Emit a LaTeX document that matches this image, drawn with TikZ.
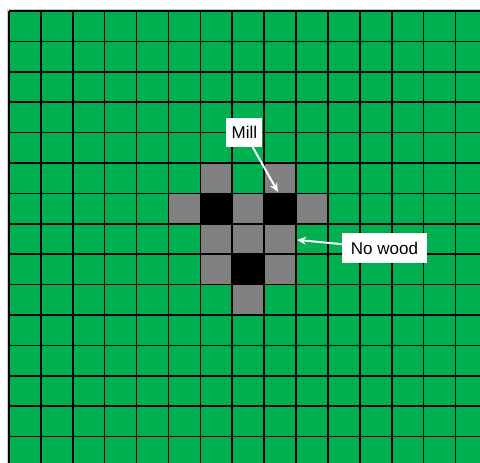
\documentclass[tikz,border=0pt]{standalone}
\usepackage{fontspec}
\setmainfont{Liberation Sans}
\usetikzlibrary{arrows.meta, positioning}
\definecolor{fieldgreen}{RGB}{0, 176, 80}
\definecolor{cutgray}{RGB}{128, 128, 128}
\tikzset{
  callout/.style={fill=white, inner sep=0pt, font=\fontsize{17}{19}\selectfont},
  pointer/.style={white, line width=2pt, -{Stealth[length=9pt, width=8pt]}}
}

\begin{document}
\begin{tikzpicture}[x=31.9pt, y=-30.4pt]
        \useasboundingbox (-0.282,-0.362) rectangle (14.765,14.836);
        \clip (-0.282,-0.362) rectangle (14.765,14.836);
        % faint edge round the field
        \draw[gray!40, line width=1pt] (-0.06,15) |- (15,-0.05);
        \fill[fieldgreen] (0,0) rectangle (15,15);
        % cells without wood
        \foreach \c/\r in {6/5, 8/5, 5/6, 7/6, 9/6, 6/7, 7/7, 8/7, 6/8, 8/8, 7/9}
          \fill[cutgray] (\c,\r) rectangle ++(1,1);
        % mills
        \foreach \c/\r in {6/6, 8/6, 7/8}
          \fill[black] (\c,\r) rectangle ++(1,1);
        % grid
        \foreach \i in {0,...,15} {
          \draw[line width=1.6pt] (\i,0) -- (\i,15);
          \draw[line width=1.6pt] (0,\i) -- (15,\i);
        }
        \node[callout, minimum width=36pt, minimum height=29pt] (mill) at (7.38,3.99) {Mill};
        \node[callout, minimum width=85pt, minimum height=30pt] (nowood) at (11.77,7.8) {No wood};
        \coordinate (milltip) at (8.43,5.95);
        \coordinate (nowoodtip) at (9.03,7.53);
        \draw[pointer] (mill) -- (milltip);
        \draw[pointer] (nowood) -- (nowoodtip);
      \end{tikzpicture}
\end{document}
